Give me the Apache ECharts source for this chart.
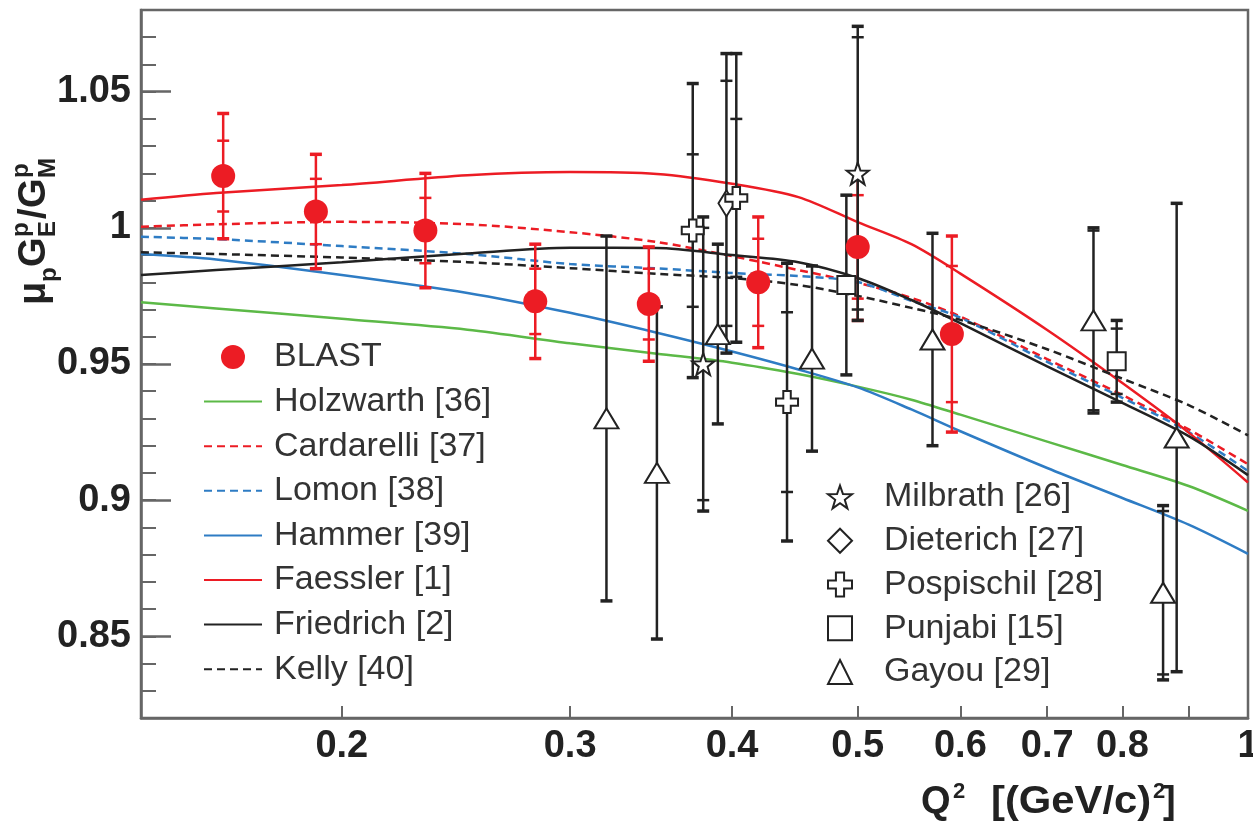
<!DOCTYPE html>
<html lang="en">
<head>
    <meta charset="UTF-8">
    <title>BLAST ratio</title>
    <script type="text/javascript" src="https://cdn.jsdelivr.net/npm/echarts@6/dist/echarts.min.js"></script>
</head>
<body style="margin:0">
<div id="main" style="width: 1253px;height: 832px"></div>

<script>
    // ---- data ----
    var blastQ2 = [0.162, 0.191, 0.232, 0.282, 0.345, 0.419, 0.500, 0.591];
    var blastR = [1.019, 1.006, 0.999, 0.973, 0.972, 0.980, 0.993, 0.961];
    var blastStat = [0.013, 0.012, 0.012, 0.012, 0.013, 0.016, 0.019, 0.025];
    var blastTot = [0.023, 0.021, 0.021, 0.021, 0.021, 0.024, 0.027, 0.036];

    var milbrathQ2 = [0.380, 0.500];
    var milbrathR = [0.950, 1.020];
    var milbrathStat = [0.050, 0.050];
    var milbrathTot = [0.054, 0.054];

    var dieterichQ2 = [0.396];
    var dieterichR = [1.009];
    var dieterichStat = [0.045];
    var dieterichTot = [0.055];

    var pospischilQ2 = [0.373, 0.403, 0.441];
    var pospischilR = [0.999, 1.011, 0.936];
    var pospischilStat = [0.028, 0.029, 0.033];
    var pospischilTot = [0.054, 0.053, 0.051];

    var punjabiQ2 = [0.490, 0.792];
    var punjabiR = [0.979, 0.951];
    var punjabiStat = [0, 0.012];
    var punjabiTot = [0.033, 0.015];

    var gayouQ2 = [0.320, 0.350, 0.390, 0.461, 0.571, 0.760, 0.860, 0.881];
    var gayouR = [0.930, 0.910, 0.961, 0.952, 0.959, 0.966, 0.866, 0.923];
    var gayouStat = [0, 0, 0, 0, 0, 0.033, 0.030, 0];
    var gayouTot = [0.067, 0.061, 0.033, 0.034, 0.039, 0.034, 0.032, 0.086];

    // theory curves, sampled on a common Q2 grid
    var q2Grid = [0.14, 0.16, 0.2, 0.25, 0.3, 0.35, 0.4, 0.45, 0.5, 0.55, 0.6, 0.7, 0.8, 0.9, 1.0];
    var holzwarth = [0.9727, 0.9704, 0.9666, 0.9626, 0.9576, 0.9538, 0.9505, 0.9463, 0.9417, 0.9369, 0.9314, 0.9215, 0.9129, 0.9052, 0.8961];
    var cardarelli = [1.0004, 1.0013, 1.0022, 1.0013, 0.9984, 0.9948, 0.9896, 0.9845, 0.9798, 0.9743, 0.9674, 0.9518, 0.9386, 0.9260, 0.9132];
    var lomon = [0.9967, 0.9959, 0.9933, 0.9904, 0.9867, 0.9851, 0.9834, 0.9823, 0.9801, 0.9732, 0.9670, 0.9508, 0.9376, 0.9250, 0.9107];
    var hammer = [0.9904, 0.9884, 0.9827, 0.9761, 0.9688, 0.9615, 0.9546, 0.9480, 0.9414, 0.9333, 0.9253, 0.9118, 0.9008, 0.8910, 0.8803];
    var faessler = [1.0103, 1.0128, 1.0157, 1.0193, 1.0205, 1.0198, 1.0162, 1.0113, 1.0021, 0.9940, 0.9832, 0.9625, 0.9430, 0.9248, 0.9065];
    var friedrich = [0.9827, 0.9845, 0.9874, 0.9906, 0.9927, 0.9926, 0.9900, 0.9874, 0.9816, 0.9735, 0.9650, 0.9491, 0.9357, 0.9235, 0.9092];
    var kelly = [0.9910, 0.9904, 0.9891, 0.9874, 0.9852, 0.9831, 0.9816, 0.9790, 0.9750, 0.9706, 0.9662, 0.9554, 0.9446, 0.9349, 0.9238];

    var xTicks = [0.2, 0.3, 0.4, 0.5, 0.6, 0.7, 0.8, 0.9, 1];
    var xLabels = [0.2, 0.3, 0.4, 0.5, 0.6, 0.7, 0.8, 1];
    var yLabels = [0.85, 0.9, 0.95, 1, 1.05];

    // ---- styling ----
    var FONT = "'Liberation Sans', Arial, Helvetica, sans-serif";
    var RED = '#ec1c24', GREEN = '#5cb947', BLUE = '#2e7cc4', BLACK = '#222', AXIS = '#666';
    var STAR = 'path://M50 0 L61.76 33.82 L97.55 34.55 L69.02 56.18 L79.39 90.45 L50 70 L20.61 90.45 L30.98 56.18 L2.45 34.55 L38.24 33.82 Z';
    var PLUS = 'path://M33 0 H67 V33 H100 V67 H67 V100 H33 V67 H0 V33 H33 Z';

    function pairs(xs, ys) {
        return xs.map(function (x, i) { return [x, ys[i]]; });
    }

    function curve(name, vals, color, dashed) {
        return {
            name: name, type: 'line', z: 2, symbol: 'none', smooth: 0.3,
            data: pairs(q2Grid, vals),
            // opacity 0 hides the dot that the legend would draw on the line icon
            itemStyle: { color: color, opacity: 0 },
            lineStyle: { color: color, width: 2.5, opacity: 1, type: dashed ? [8, 5] : 'solid' }
        };
    }

    function points(name, q2, r, symbol, size, filled) {
        return {
            name: name, type: 'scatter', z: 4, symbol: symbol, symbolSize: size,
            data: pairs(q2, r),
            itemStyle: filled ? { color: RED, opacity: 1 }
                : { color: '#fff', borderColor: BLACK, borderWidth: 2, opacity: 1 }
        };
    }

    // vertical error bar: outer caps = total error, inner ticks = statistical error
    function bars(name, q2, r, stat, tot, color, lw) {
        return {
            name: name, type: 'custom', z: 3,
            data: q2.map(function (q, i) { return [q, r[i], tot[i], stat[i]]; }),
            encode: { x: 0, y: 1 },
            renderItem: function (params, api) {
                var q = api.value(0), v = api.value(1), t = api.value(2), s = api.value(3);
                var hi = api.coord([q, v + t]), lo = api.coord([q, v - t]);
                var x = hi[0], cap = 12;
                var st = { stroke: color, lineWidth: lw };
                var kids = [
                    { type: 'line', shape: { x1: x, y1: hi[1], x2: x, y2: lo[1] }, style: st },
                    { type: 'line', shape: { x1: x - cap / 2, y1: hi[1], x2: x + cap / 2, y2: hi[1] }, style: { stroke: color, lineWidth: lw + 1 } },
                    { type: 'line', shape: { x1: x - cap / 2, y1: lo[1], x2: x + cap / 2, y2: lo[1] }, style: { stroke: color, lineWidth: lw + 1 } }
                ];
                if (s > 0) {
                    var sh = api.coord([q, v + s]), sl = api.coord([q, v - s]);
                    kids.push({ type: 'line', shape: { x1: x - cap / 2, y1: sh[1], x2: x + cap / 2, y2: sh[1] }, style: st });
                    kids.push({ type: 'line', shape: { x1: x - cap / 2, y1: sl[1], x2: x + cap / 2, y2: sl[1] }, style: st });
                }
                return { type: 'group', children: kids };
            }
        };
    }

    var chartDom = document.getElementById('main');
    var myChart = echarts.init(chartDom);
    var option;

    var legendText = { fontSize: 34, fontFamily: FONT, color: '#333', lineHeight: 34 };

    option = {
        animation: false,
        grid: {
            left: 141, top: 10, width: 1107, height: 708,
            outerBoundsMode: 'none',
            show: true, borderColor: AXIS, borderWidth: 2.5
        },
        xAxis: {
            type: 'log', logBase: 10, min: 0.14, max: 1,
            axisLine: { lineStyle: { color: AXIS, width: 2.5 } },
            axisTick: { inside: true, length: 12, customValues: xTicks, lineStyle: { color: AXIS, width: 2 } },
            axisLabel: {
                customValues: xLabels, margin: 10,
                fontSize: 38, fontWeight: 'bold', fontFamily: FONT, color: BLACK,
                formatter: function (v) { return String(+(+v).toPrecision(3)); }
            },
            splitLine: { show: false },
            minorTick: { show: false }
        },
        yAxis: [
            {
                type: 'value', position: 'left', min: 0.82, max: 1.08, interval: 0.01,
                axisLine: { show: true, lineStyle: { color: AXIS, width: 2.5 } },
                axisTick: { inside: true, length: 15, lineStyle: { color: AXIS, width: 2 } },
                axisLabel: { show: false },
                splitLine: { show: false }
            },
            {
                type: 'value', position: 'left', min: 0.82, max: 1.08,
                axisLine: { show: false },
                axisTick: { show: true, inside: true, length: 30, customValues: yLabels, lineStyle: { color: AXIS, width: 2.5 } },
                axisLabel: {
                    customValues: yLabels, margin: 10,
                    fontSize: 38, fontWeight: 'bold', fontFamily: FONT, color: BLACK,
                    formatter: function (v) { return String(+(+v).toFixed(2)); }
                },
                splitLine: { show: false }
            }
        ],
        legend: [
            {
                orient: 'vertical', left: 203, top: 340, padding: 0,
                itemWidth: 58, itemHeight: 24, itemGap: 10.6, selectedMode: false,
                textStyle: Object.assign({ padding: [0, 0, 0, 7] }, legendText),
                data: ['BLAST', 'Holzwarth [36]', 'Cardarelli [37]', 'Lomon [38]', 'Hammer [39]',
                    'Faessler [1]', 'Friedrich [2]', 'Kelly [40]']
            },
            {
                orient: 'vertical', left: 827, top: 480, padding: 0,
                itemWidth: 24, itemHeight: 24, itemGap: 9.75, selectedMode: false,
                textStyle: Object.assign({ padding: [0, 0, 0, 27] }, legendText),
                data: ['Milbrath [26]', 'Dieterich [27]', 'Pospischil [28]', 'Punjabi [15]', 'Gayou [29]']
            }
        ],
        graphic: [
            {
                type: 'group', x: 35, y: 305, rotation: Math.PI / 2,
                children: [
                    { type: 'text', x: 0, y: 0, style: { text: 'μ', font: 'bold 38px ' + FONT, fill: BLACK, verticalAlign: 'middle' } },
                    { type: 'text', x: 23, y: 14, style: { text: 'p', font: 'bold 24px ' + FONT, fill: BLACK, verticalAlign: 'middle' } },
                    { type: 'text', x: 38, y: 0, style: { text: 'G', font: 'bold 38px ' + FONT, fill: BLACK, verticalAlign: 'middle' } },
                    { type: 'text', x: 68, y: -14, style: { text: 'p', font: 'bold 24px ' + FONT, fill: BLACK, verticalAlign: 'middle' } },
                    { type: 'text', x: 68, y: 13, style: { text: 'E', font: 'bold 24px ' + FONT, fill: BLACK, verticalAlign: 'middle' } },
                    { type: 'text', x: 86, y: 0, style: { text: '/', font: 'bold 38px ' + FONT, fill: BLACK, verticalAlign: 'middle' } },
                    { type: 'text', x: 97, y: 0, style: { text: 'G', font: 'bold 38px ' + FONT, fill: BLACK, verticalAlign: 'middle' } },
                    { type: 'text', x: 127, y: -14, style: { text: 'p', font: 'bold 24px ' + FONT, fill: BLACK, verticalAlign: 'middle' } },
                    { type: 'text', x: 127, y: 13, style: { text: 'M', font: 'bold 24px ' + FONT, fill: BLACK, verticalAlign: 'middle' } }
                ]
            },
            { type: 'text', x: 921, y: 803, style: { text: 'Q', font: 'bold 38px ' + FONT, fill: BLACK, verticalAlign: 'middle' } },
            { type: 'text', x: 953, y: 792, style: { text: '2', font: 'bold 22px ' + FONT, fill: BLACK, verticalAlign: 'middle' } },
            { type: 'text', x: 991, y: 803, scaleX: 1.1, style: { text: '[(GeV/c)', font: 'bold 38px ' + FONT, fill: BLACK, verticalAlign: 'middle' } },
            { type: 'text', x: 1153, y: 792, style: { text: '2', font: 'bold 22px ' + FONT, fill: BLACK, verticalAlign: 'middle' } },
            { type: 'text', x: 1163, y: 803, style: { text: ']', font: 'bold 38px ' + FONT, fill: BLACK, verticalAlign: 'middle' } }
        ],
        series: [
            curve('Holzwarth [36]', holzwarth, GREEN, false),
            curve('Cardarelli [37]', cardarelli, RED, true),
            curve('Lomon [38]', lomon, BLUE, true),
            curve('Hammer [39]', hammer, BLUE, false),
            curve('Faessler [1]', faessler, RED, false),
            curve('Friedrich [2]', friedrich, BLACK, false),
            curve('Kelly [40]', kelly, BLACK, true),

            points('BLAST', blastQ2, blastR, 'circle', 24, true),
            points('Milbrath [26]', milbrathQ2, milbrathR, STAR, 22, false),
            points('Dieterich [27]', dieterichQ2, dieterichR, 'diamond', [16, 26], false),
            points('Pospischil [28]', pospischilQ2, pospischilR, PLUS, 22, false),
            points('Punjabi [15]', punjabiQ2, punjabiR, 'rect', 18, false),
            points('Gayou [29]', gayouQ2, gayouR, 'triangle', [24, 20], false),

            bars('BLAST', blastQ2, blastR, blastStat, blastTot, RED, 2.5),
            bars('Milbrath [26]', milbrathQ2, milbrathR, milbrathStat, milbrathTot, BLACK, 2.5),
            bars('Dieterich [27]', dieterichQ2, dieterichR, dieterichStat, dieterichTot, BLACK, 2.5),
            bars('Pospischil [28]', pospischilQ2, pospischilR, pospischilStat, pospischilTot, BLACK, 2.5),
            bars('Punjabi [15]', punjabiQ2, punjabiR, punjabiStat, punjabiTot, BLACK, 2.5),
            bars('Gayou [29]', gayouQ2, gayouR, gayouStat, gayouTot, BLACK, 2.5)
        ]
    };

    myChart.setOption(option);
</script>
</body>
</html>
